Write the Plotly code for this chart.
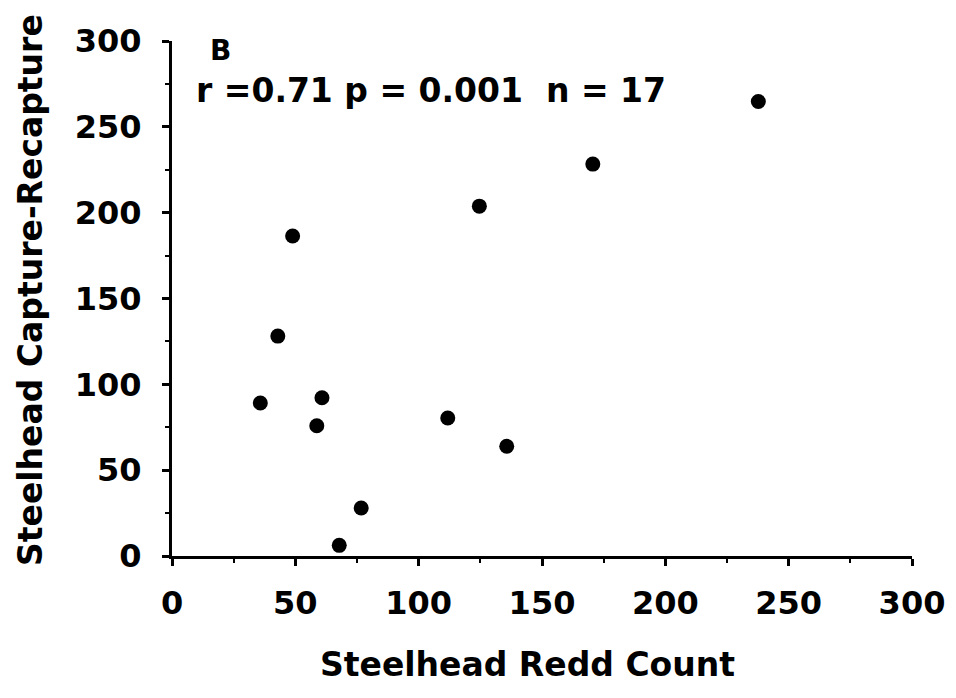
import plotly.graph_objects as go

redd_count = [35.8, 60.8, 58.7, 111.8, 135.7, 76.7, 67.8, 237.7, 170.6, 124.6, 48.9, 42.9]
capture_recapture = [89.1, 92.2, 75.9, 80.4, 63.9, 28.0, 6.2, 264.8, 228.3, 203.8, 186.4, 128.1]

x_ticks = [0, 50, 100, 150, 200, 250, 300]
y_ticks = [0, 50, 100, 150, 200, 250, 300]

x_title = "Steelhead Redd Count"
y_title = "Steelhead Capture-Recapture"
panel_label = "B"
stats_text = "r =0.71 p = 0.001  n = 17"

FONT = "DejaVu Sans"

fig = go.Figure()
fig.add_trace(go.Scatter(
    x=redd_count, y=capture_recapture, mode="markers",
    marker=dict(size=15, color="black"), showlegend=False,
))

axis_common = dict(
    range=[0, 300], showgrid=False, zeroline=False,
    showline=True, linecolor="black", linewidth=3,
    ticks="outside", ticklen=7, tickwidth=2.5, tickcolor="black",
    tickfont=dict(family=FONT, size=32, color="black", weight="bold"),
    minor=dict(ticks="outside", ticklen=4, tickwidth=2, tickcolor="black", dtick=25),
)

plot_l, plot_r, plot_t, plot_b = 172, 912, 41, 556

def px_to_paper(px, py):
    return (px - plot_l) / (plot_r - plot_l), (plot_b - py) / (plot_b - plot_t)

bx, by = px_to_paper(220, 50)
rx, ry = px_to_paper(431, 90)
xtx, xty = px_to_paper(527, 664)
ytx, yty = px_to_paper(30, 290)

fig.update_layout(
    width=956, height=698,
    margin=dict(l=plot_l, r=956 - plot_r, t=plot_t, b=698 - plot_b),
    paper_bgcolor="white", plot_bgcolor="white",
    xaxis=dict(**axis_common, tickvals=x_ticks, ticklabelstandoff=10),
    yaxis=dict(**axis_common, tickvals=y_ticks, ticklabelstandoff=14),
    annotations=[
        dict(text=panel_label, x=bx, y=by, xref="paper", yref="paper", showarrow=False,
             font=dict(family=FONT, size=28, color="black", weight="bold"),
             xanchor="center", yanchor="middle"),
        dict(text=stats_text, x=rx, y=ry, xref="paper", yref="paper",
             showarrow=False,
             font=dict(family=FONT, size=33, color="black", weight="bold"),
             xanchor="center", yanchor="middle"),
        dict(text=x_title, x=xtx, y=xty, xref="paper", yref="paper",
             showarrow=False,
             font=dict(family=FONT, size=33, color="black", weight="bold"),
             xanchor="center", yanchor="middle"),
        dict(text=y_title, x=ytx, y=yty, xref="paper", yref="paper",
             showarrow=False, textangle=-90,
             font=dict(family=FONT, size=33, color="black", weight="bold"),
             xanchor="center", yanchor="middle"),
    ],
)

fig.write_html("out.html")
